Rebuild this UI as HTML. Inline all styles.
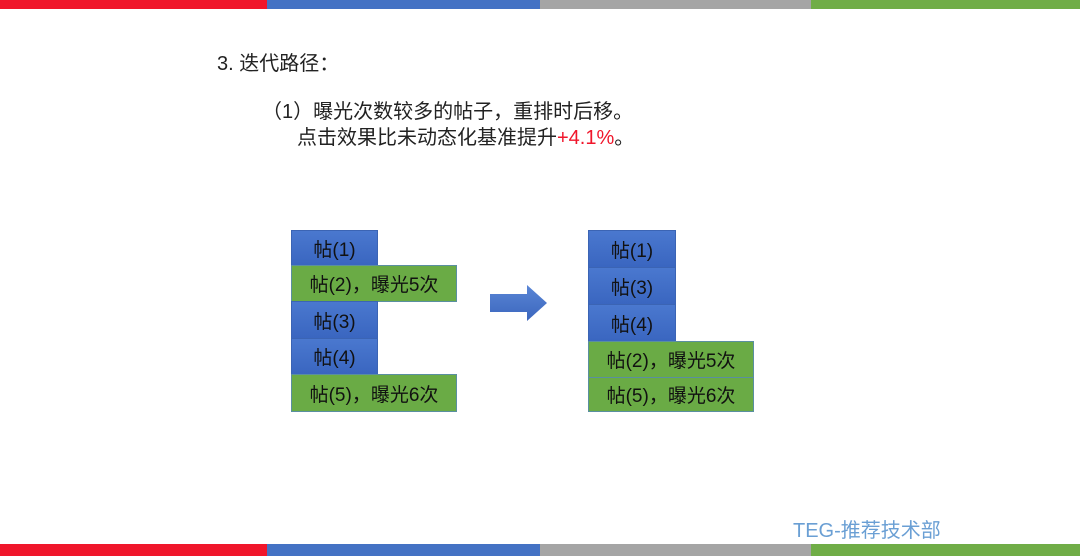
<!DOCTYPE html>
<html><head><meta charset="utf-8"><style>
body{margin:0;width:1080px;height:556px;background:#fff;position:relative;overflow:hidden;font-family:"Liberation Sans","Noto Sans CJK SC",sans-serif;color:#222}
.bar{position:absolute;left:0;width:1080px;height:9px;display:flex}
.bar div{height:100%}
.b{position:absolute;box-sizing:border-box;display:flex;align-items:center;justify-content:center;font-size:19px;color:#111}
.bl{background:linear-gradient(#4a78cf,#3a66c0);border:1px solid #3b64b4}
.gr{background:#6aab45;border:1px solid #5a8fa0}
.t{position:absolute;white-space:nowrap}
</style></head><body>
<div class="bar" style="top:0"><div style="width:267px;background:#f0162b"></div><div style="width:273px;background:#4472c4"></div><div style="width:271px;background:#a5a5a5"></div><div style="width:269px;background:#70ad47"></div></div>
<div class="bar" style="top:544px;height:12px"><div style="width:267px;background:#f0162b"></div><div style="width:273px;background:#4472c4"></div><div style="width:271px;background:#a5a5a5"></div><div style="width:269px;background:#70ad47"></div></div>
<div class="t" style="left:217px;top:47px;font-size:20px">3. 迭代路径：</div>
<div class="t" style="left:262px;top:95px;font-size:20px">（1）曝光次数较多的帖子，重排时后移。</div>
<div class="t" style="left:297px;top:121px;font-size:20px">点击效果比未动态化基准提升<span style="color:#f0162b">+4.1%</span>。</div>
<div class="b bl" style="left:291px;top:230px;width:87px;height:36px">帖(1)</div>
<div class="b gr" style="left:291px;top:265px;width:166px;height:37px">帖(2)，曝光5次</div>
<div class="b bl" style="left:291px;top:301px;width:87px;height:38px">帖(3)</div>
<div class="b bl" style="left:291px;top:338px;width:87px;height:37px">帖(4)</div>
<div class="b gr" style="left:291px;top:374px;width:166px;height:38px">帖(5)，曝光6次</div>
<svg style="position:absolute;left:489px;top:284px" width="60" height="40"><defs><linearGradient id="g" x1="0" y1="0" x2="0" y2="1"><stop offset="0" stop-color="#5a86d6"/><stop offset="1" stop-color="#3b66bd"/></linearGradient></defs><polygon points="1,10 38,10 38,1 58,19 38,37 38,28 1,28" fill="url(#g)"/></svg>
<div class="b bl" style="left:588px;top:230px;width:88px;height:38px">帖(1)</div>
<div class="b bl" style="left:588px;top:267px;width:88px;height:38px">帖(3)</div>
<div class="b bl" style="left:588px;top:304px;width:88px;height:38px">帖(4)</div>
<div class="b gr" style="left:588px;top:341px;width:166px;height:37px">帖(2)，曝光5次</div>
<div class="b gr" style="left:588px;top:377px;width:166px;height:35px">帖(5)，曝光6次</div>
<div class="t" style="left:793px;top:514px;font-size:20px;color:#6a9fd4">TEG-推荐技术部</div>
</body></html>
